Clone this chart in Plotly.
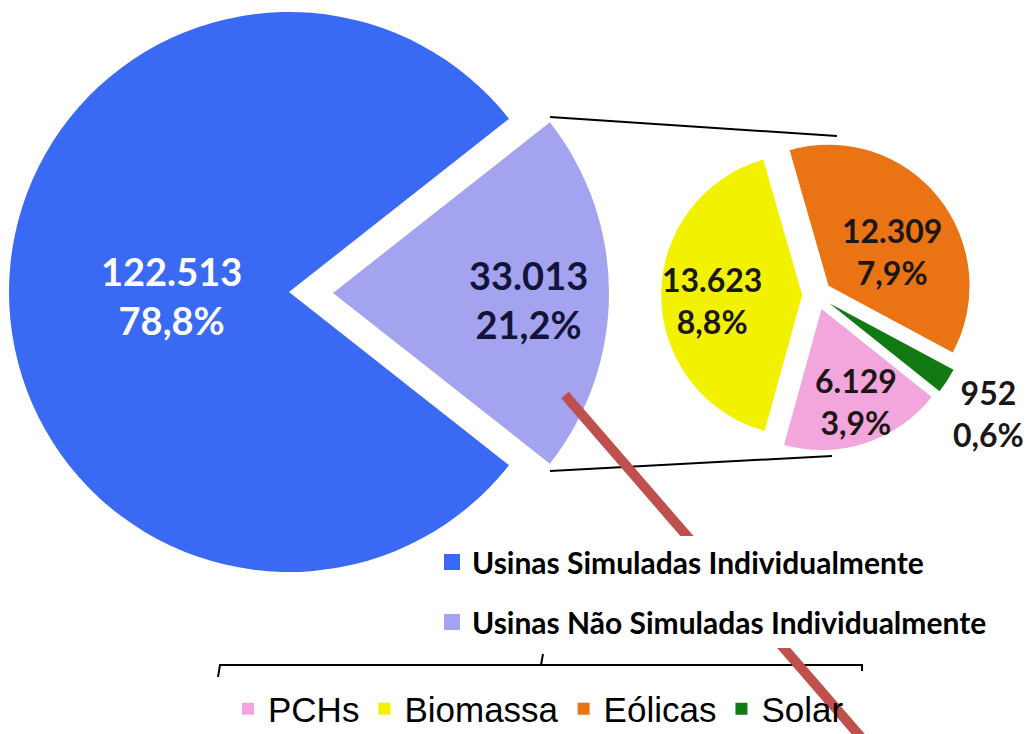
import plotly.graph_objects as go

# ---- data ----
big_labels = ["Usinas Simuladas Individualmente", "Usinas Não Simuladas Individualmente"]
big_values = [122513, 33013]
small_labels = ["PCHs", "Biomassa", "Eólicas", "Solar"]
small_values = [6129, 13623, 12309, 952]

# ---- style ----
BLUE = "#3a69f4"
LAV = "#a3a3f0"
small_colors = ["#f2a6dc", "#f2f200", "#ea7314", "#127a12"]
CLEAR = "rgba(0,0,0,0)"
W, H = 1028, 734

total = sum(big_values)
sub_total = sum(small_values)


def fmt_num(v):
    return f"{v:,}".replace(",", ".")


def fmt_pct(v):
    return f"{100 * v / total:.1f}".replace(".", ",") + "%"


def lab(v):
    return f"{fmt_num(v)}<br>{fmt_pct(v)}"


def dom(cx, cy, half):
    return dict(x=[(cx - half) / W, (cx + half) / W],
                y=[1 - (cy + half) / H, 1 - (cy - half) / H])


def px(x, y):
    return x / W, 1 - y / H


# rotation so that the "Não simuladas" slice is centred at 3 o'clock
big_rot = 90 + 180 * big_values[1] / total
# small pie: Eólicas starts at ~ -16 deg (clockwise from 12 o'clock)
small_rot = -16 - 360 * (small_values[0] + small_values[1]) / sub_total

R_BIG = 280
fig = go.Figure()

# blue slice (Simuladas)
fig.add_trace(go.Pie(
    labels=big_labels, values=big_values, sort=False, direction="clockwise",
    rotation=big_rot, domain=dom(289, 292, R_BIG),
    marker=dict(colors=[BLUE, CLEAR], line=dict(width=0)),
    textinfo="none", showlegend=False, hoverinfo="label+value",
))
# lavender slice (Não simuladas), exploded to the right
fig.add_trace(go.Pie(
    labels=big_labels, values=big_values, sort=False, direction="clockwise",
    rotation=big_rot, domain=dom(333, 293, 276),
    marker=dict(colors=[CLEAR, LAV], line=dict(width=0)),
    textinfo="none", showlegend=False, hoverinfo="label+value",
))
# breakdown pie
PULL = 0.105
fig.add_trace(go.Pie(
    labels=small_labels, values=small_values, sort=False, direction="clockwise",
    rotation=small_rot, domain=dom(817, 295, 141 * (1 + PULL)),
    pull=[PULL] * 4,
    marker=dict(colors=small_colors, line=dict(width=0)),
    textinfo="none",
    legend="legend2", showlegend=True, hoverinfo="label+value",
))

# legend entries for the main pie
for name, col in zip(big_labels, [BLUE, LAV]):
    fig.add_trace(go.Scatter(
        x=[None], y=[None], mode="markers", name=name,
        marker=dict(symbol="square", size=16, color=col),
        legend="legend", legendgroup=name, showlegend=True,
    ))

# value labels
annotations = []
big_label_pos = [(171, 296), (528, 299)]
big_label_col = ["white", "#14143a"]
for v, (x, y), c in zip(big_values, big_label_pos, big_label_col):
    ax, ay = px(x, y)
    annotations.append(dict(
        x=ax, y=ay, xref="paper", yref="paper", showarrow=False,
        text=lab(v), align="center", xanchor="center", yanchor="middle",
        font=dict(family="Lato", size=38, weight="bold", color=c)))
small_label_pos = [(856, 401), (712, 300), (892, 251), (988, 413)]
for v, (x, y) in zip(small_values, small_label_pos):
    ax, ay = px(x, y)
    annotations.append(dict(
        x=ax, y=ay, xref="paper", yref="paper", showarrow=False,
        text=lab(v), align="center", xanchor="center", yanchor="middle",
        font=dict(family="Lato", size=32, weight="bold", color="#1c1717")))

shapes = [
    # connector lines
    dict(type="line", xref="paper", yref="paper",
         x0=550 / W, y0=1 - 117 / H, x1=837 / W, y1=1 - 136 / H,
         line=dict(color="black", width=2), layer="above"),
    dict(type="line", xref="paper", yref="paper",
         x0=550 / W, y0=1 - 471 / H, x1=832 / W, y1=1 - 456 / H,
         line=dict(color="black", width=2), layer="above"),
    # bracket above the lower legend
    dict(type="path", xref="paper", yref="paper",
         path=(f"M {218 / W} {1 - 677 / H} L {220 / W} {1 - 665 / H} "
               f"L {862 / W} {1 - 665 / H} L {862 / W} {1 - 671 / H} "
               f"M {541 / W} {1 - 665 / H} L {543 / W} {1 - 654 / H}"),
         line=dict(color="black", width=2), layer="above"),
    # red stroke
    dict(type="line", xref="paper", yref="paper",
         x0=565 / W, y0=1 - 395 / H, x1=872 / W, y1=1 - 750 / H,
         line=dict(color="#c0504d", width=10), layer="above"),
]

fig.update_layout(
    width=W, height=H,
    margin=dict(l=0, r=0, t=0, b=0, autoexpand=False),
    paper_bgcolor="white", plot_bgcolor="white",
    xaxis=dict(visible=False), yaxis=dict(visible=False),
    shapes=shapes, annotations=annotations,
    legend=dict(
        x=432 / W, xanchor="left", y=1 - 536 / H, yanchor="top",
        bgcolor="white", borderwidth=0, traceorder="grouped",
        tracegroupgap=18,
        font=dict(family="Lato", size=30, weight="bold", color="black"),
        itemclick=False, itemdoubleclick=False,
    ),
    legend2=dict(
        orientation="h", x=228 / W, xanchor="left", y=1 - 709 / H,
        yanchor="middle", bgcolor="rgba(0,0,0,0)",
        font=dict(family="Liberation Sans", size=35, color="black"),
    ),
)

fig.write_html("out.html",
               config={"displayModeBar": False},
               post_script="document.body.style.margin='0';"
                           "document.body.style.overflow='hidden';")
